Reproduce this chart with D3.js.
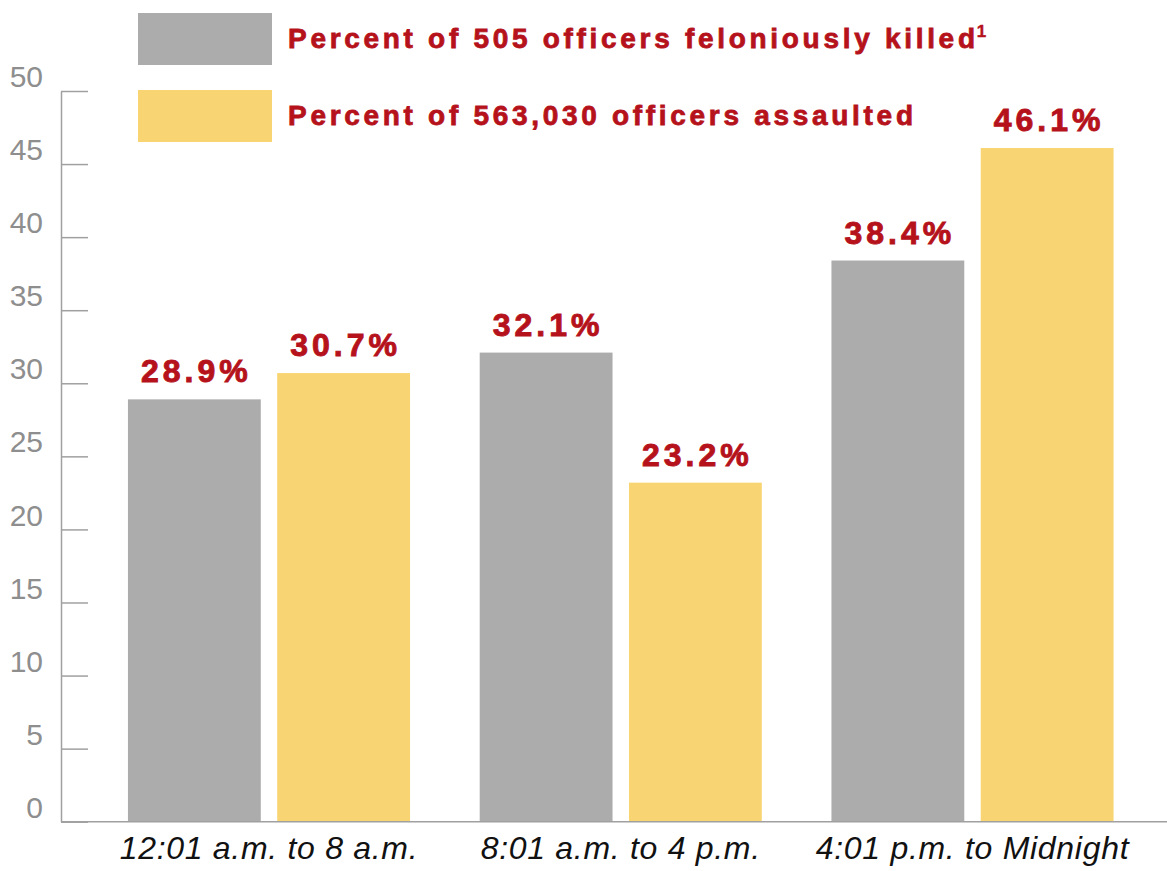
<!DOCTYPE html>
<html>
<head>
<meta charset="utf-8">
<script src="https://cdn.jsdelivr.net/npm/d3@7"></script>
<style>
  html, body { margin: 0; padding: 0; background: #ffffff; }
  svg { display: block; }
</style>
</head>
<body>
<script>
const categories = ["12:01 a.m. to 8 a.m.", "8:01 a.m. to 4 p.m.", "4:01 p.m. to Midnight"];
const seriesNames = ["Percent of 505 officers feloniously killed", "Percent of 563,030 officers assaulted"];
const killedValues = [28.9, 32.1, 38.4];
const assaultedValues = [30.7, 23.2, 46.1];
const yTicks = [0, 5, 10, 15, 20, 25, 30, 35, 40, 45, 50];
const seriesColors = ["#acacac", "#f8d572"];
const seriesValues = [killedValues, assaultedValues];

const W = 1167, H = 871;
const svg = d3.select("body").append("svg").attr("width", W).attr("height", H);

const y = d3.scaleLinear().domain([0, 50]).range([821.7, 91]);
const x0 = d3.scaleBand().domain(categories).range([58.3, 1183.2]).paddingInner(0.198).paddingOuter(0.198);
const x1 = d3.scaleBand().domain(seriesNames).range([0, x0.bandwidth()]).paddingInner(0.11).paddingOuter(0);

const red = "#b5121b";

// Y axis
const yAxis = svg.append("g").attr("transform", "translate(61,0)")
  .call(d3.axisLeft(y).tickValues(yTicks).tickSizeInner(-27).tickSizeOuter(0).tickPadding(18));
yAxis.select(".domain").attr("stroke", "#a0a0a0").attr("stroke-width", 1.5);
yAxis.selectAll(".tick line").attr("stroke", "#a0a0a0").attr("stroke-width", 1.5);
yAxis.selectAll(".tick text")
  .attr("fill", "#8e8e8e").attr("font-family", "'Liberation Sans', Arial, sans-serif")
  .attr("font-size", 30).attr("y", -14);

// Bars
const groups = svg.append("g").selectAll("g").data(categories).join("g")
  .attr("transform", d => `translate(${x0(d)},0)`);

groups.each(function(cat, ci) {
  const g = d3.select(this);
  seriesNames.forEach((s, si) => {
    const v = seriesValues[si][ci];
    g.append("rect")
      .attr("x", x1(s)).attr("width", x1.bandwidth())
      .attr("y", y(v)).attr("height", y(0) - y(v))
      .attr("fill", seriesColors[si]);
    g.append("text")
      .attr("x", x1(s) + x1.bandwidth() / 2 + 2)
      .attr("y", y(v) - 17)
      .attr("text-anchor", "middle")
      .attr("fill", red)
      .attr("stroke", red).attr("stroke-width", 0.9)
      .attr("font-family", "'Liberation Sans', Arial, sans-serif")
      .attr("font-weight", "bold")
      .attr("font-size", 32)
      .attr("letter-spacing", "4px")
      .text(v.toFixed(1) + "%");
  });
});

// X axis baseline
svg.append("line").attr("x1", 61).attr("x2", W).attr("y1", y(0)).attr("y2", y(0))
  .attr("stroke", "#a0a0a0").attr("stroke-width", 1.5);

// X labels
svg.append("g").selectAll("text").data(categories).join("text")
  .attr("x", d => x0(d) + x0.bandwidth() / 2)
  .attr("y", 859)
  .attr("text-anchor", "middle")
  .attr("font-family", "'Liberation Sans', Arial, sans-serif")
  .attr("font-style", "italic")
  .attr("font-size", 32)
  .attr("letter-spacing", "0.7px")
  .attr("fill", "#111")
  .text(d => d);

// Legend
const legend = svg.append("g");
seriesNames.forEach((s, i) => {
  const ly = 13 + i * 77;
  legend.append("rect").attr("x", 138).attr("y", ly).attr("width", 134).attr("height", 52)
    .attr("fill", seriesColors[i]);
  const t = legend.append("text").attr("x", 288).attr("y", ly + 35)
    .attr("fill", red)
    .attr("stroke", red).attr("stroke-width", 0.8)
    .attr("font-family", "'Liberation Sans', Arial, sans-serif")
    .attr("font-weight", "bold")
    .attr("font-size", 28)
    .attr("letter-spacing", "3.7px");
  t.append("tspan").text(s);
  if (i === 0) {
    t.append("tspan").attr("font-size", 17).attr("dy", -11).attr("letter-spacing", "0px").attr("dx", -2)
      .attr("stroke-width", 0.4).text("1");
  }
});
</script>
</body>
</html>
